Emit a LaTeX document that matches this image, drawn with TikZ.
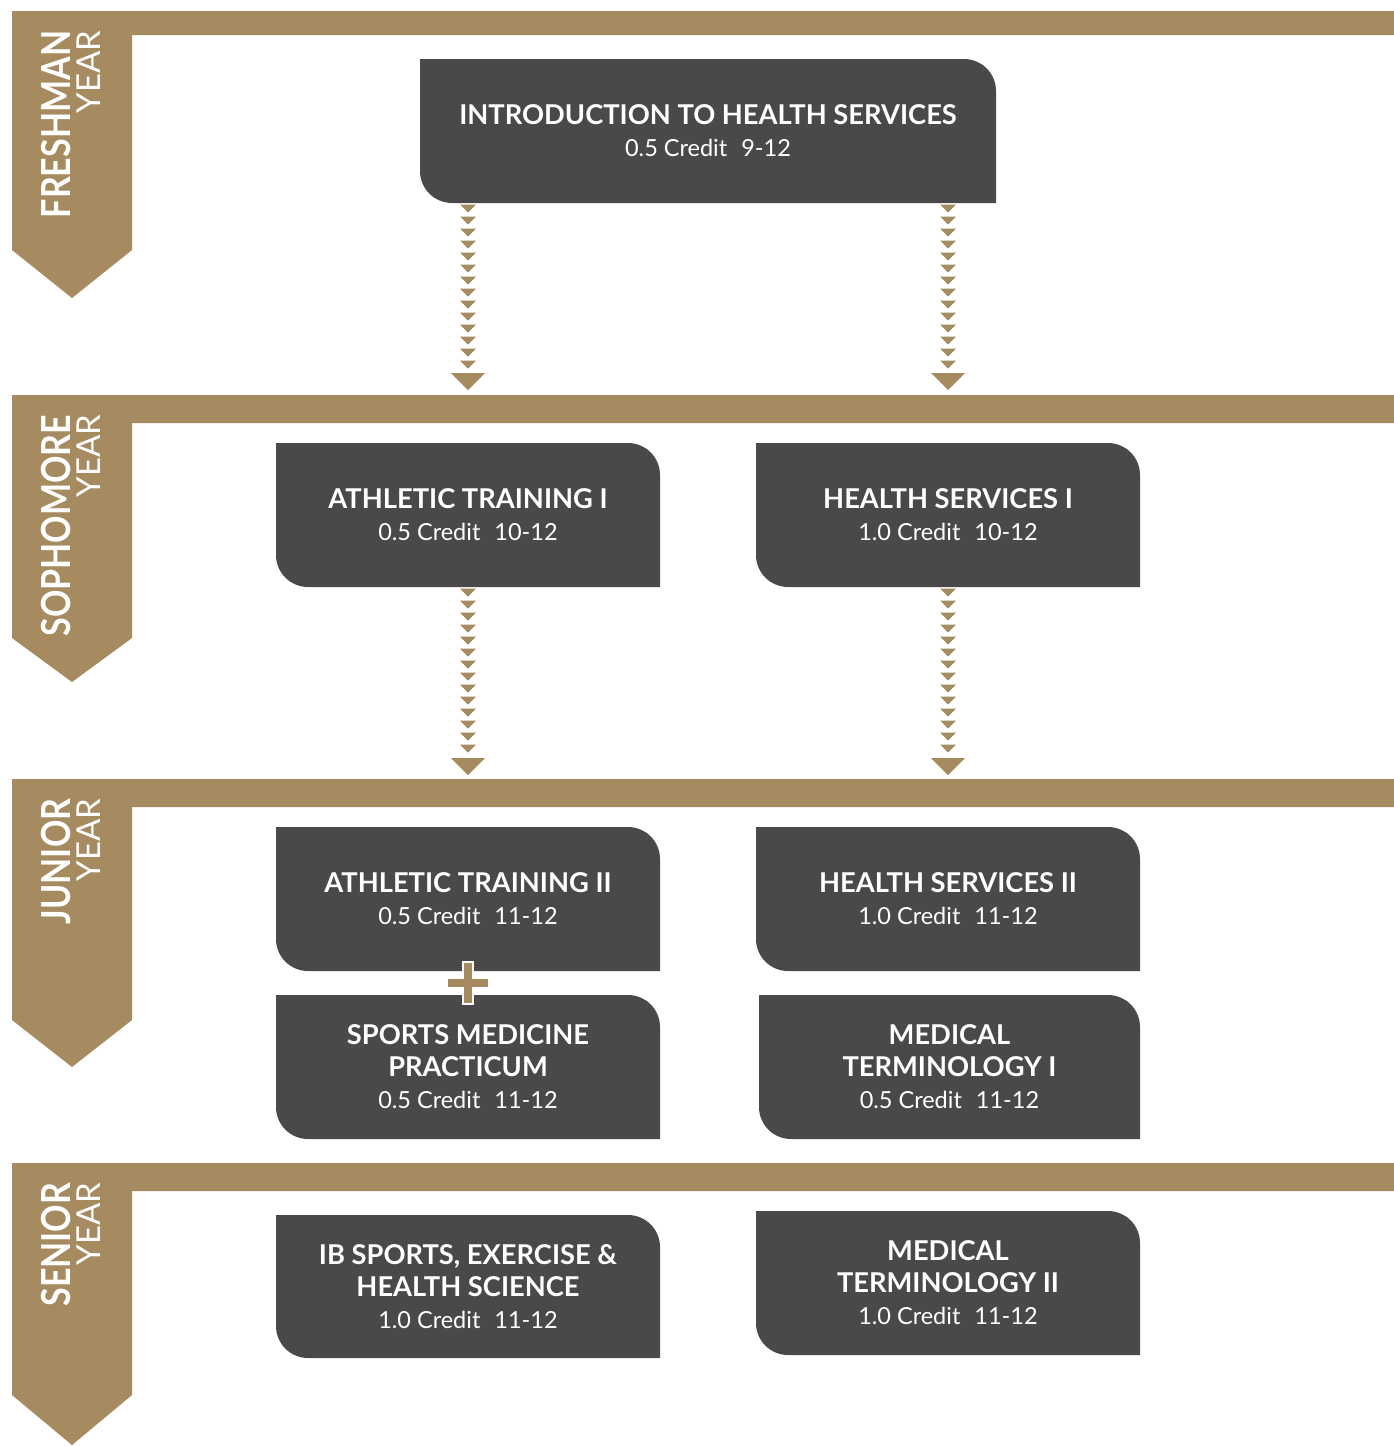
\documentclass[tikz,border=0pt]{standalone}
\usepackage{fontspec}
\setmainfont{Lato}
\usetikzlibrary{calc,decorations.markings}

\definecolor{gold}{RGB}{165,139,95}
\definecolor{slate}{RGB}{74,72,75}
\newcommand\cred[1]{{\mdseries\fontsize{23.5}{32}\selectfont #1}}
\newcommand\narrow[1]{\scalebox{0.85}[1]{#1}}
\def\rad{32pt}
\def\gap{\hspace{14pt}}

\tikzset{
  course/.style={minimum width=384pt, minimum height=144pt, inner sep=0pt, outer sep=0pt,
    text=white, align=center, font=\bfseries\fontsize{27.3}{32}\selectfont,
    path picture={
      \fill[slate] (path picture bounding box.north west)
        -- ([xshift=-\rad]path picture bounding box.north east)
        arc[start angle=90, end angle=0, radius=\rad]
        -- (path picture bounding box.south east)
        -- ([xshift=\rad]path picture bounding box.south west)
        arc[start angle=270, end angle=180, radius=\rad] -- cycle;}},
  dotarrow/.style={decoration={markings,
      mark=between positions 1.5pt and -28pt step 12pt with
        {\fill[gold] (0pt,8pt) -- (8pt,0pt) -- (0pt,-8pt) -- cycle;},
      mark=at position 1 with
        {\fill[gold] (0pt,0pt) -- (-17pt,17pt) -- (-17pt,-17pt) -- cycle;}},
    decorate},
  yearbold/.style={rotate=90, anchor=base east, inner sep=0pt, text=white,
    font=\bfseries\fontsize{40}{40}\selectfont},
  yearthin/.style={rotate=90, anchor=base east, inner sep=0pt, text=white,
    font=\fontsize{33}{33}\selectfont},
}

\begin{document}
\begin{tikzpicture}[x=1pt, y=1pt]
\useasboundingbox (0,0) rectangle (1394,-1446);

% year bands
\foreach \t/\b/\f/\p/\yr in {-11/-35/-250/-298/FRESHMAN, -395/-423/-638/-682/SOPHOMORE,
    -779/-807/-1020/-1067/JUNIOR, -1163/-1191/-1395/-1445/SENIOR}{
  \fill[gold] (12,\t) -- (1394,\t) -- (1394,\b) -- (132,\b) -- (132,\f)
    -- (72,\p) -- (12,\f) -- cycle;
  \node[yearbold] (lbl\yr) at (70,{\t-19.5}) {\narrow{\yr}};
  \node[yearthin] (yr\yr) at (100,{\t-19.5}) {YEAR};
}

% courses
\node[course, minimum width=576pt] (intro) at (708,-131)
  {INTRODUCTION TO HEALTH SERVICES\\\cred{0.5 Credit\gap 9-12}};
\node[course] (atI) at (468,-515) {ATHLETIC TRAINING I\\\cred{0.5 Credit\gap 10-12}};
\node[course] (hsI) at (948,-515) {HEALTH SERVICES I\\\cred{1.0 Credit\gap 10-12}};
\node[course] (atII) at (468,-899) {ATHLETIC TRAINING II\\\cred{0.5 Credit\gap 11-12}};
\node[course] (hsII) at (948,-899) {HEALTH SERVICES II\\\cred{1.0 Credit\gap 11-12}};
\node[course] (sports) at (468,-1067) {SPORTS MEDICINE\\PRACTICUM\\\cred{0.5 Credit\gap 11-12}};
\node[course, minimum width=381pt] (medI) at (949.5,-1067)
  {MEDICAL\\TERMINOLOGY I\\\cred{0.5 Credit\gap 11-12}};
\node[course, minimum height=143pt] (ib) at (468,-1286.5)
  {IB SPORTS, EXERCISE \&\\HEALTH SCIENCE\\\cred{1.0 Credit\gap 11-12}};
\node[course] (medII) at (948,-1283) {MEDICAL\\TERMINOLOGY II\\\cred{1.0 Credit\gap 11-12}};

% arrows
\path[dotarrow] (atI.north |- intro.south) -- ($(atI.north)+(0,53)$);
\path[dotarrow] (hsI.north |- intro.south) -- ($(hsI.north)+(0,53)$);
\path[dotarrow] (atI.south) -- ($(atII.north)+(0,52)$);
\path[dotarrow] (hsI.south) -- ($(hsII.north)+(0,52)$);

% plus
\coordinate (plus) at ($(atII.south)!0.5!(sports.north)$);
\filldraw[fill=gold, draw=white, line width=1.5pt, shift={(plus)}]
  (-5,21) -- (5,21) -- (5,5) -- (21,5) -- (21,-5) -- (5,-5) -- (5,-21)
  -- (-5,-21) -- (-5,-5) -- (-21,-5) -- (-21,5) -- (-5,5) -- cycle;
\end{tikzpicture}
\end{document}
